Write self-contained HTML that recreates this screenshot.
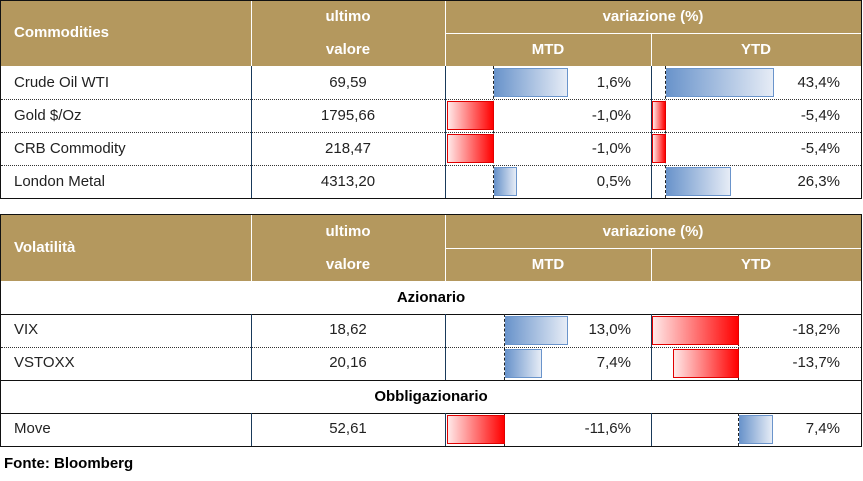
<!DOCTYPE html><html><head><meta charset="utf-8"><style>
body{margin:0;width:863px;height:481px;background:#fff;position:relative;overflow:hidden;font-family:"Liberation Sans",sans-serif;color:#222}
div{position:absolute;box-sizing:border-box}
.g{background:#B4985E}
.h{color:#fff;font-weight:bold;font-size:15px;text-align:center}
.t{font-size:15px;margin-top:-1px}
.n{left:14px}
.v{left:251px;width:194px;text-align:center}
.m{right:232px;text-align:right}
.y{right:23px;text-align:right}
.bp{background:linear-gradient(to right,#6A94CB,#E6ECF6);border:1px solid #6A94CB}
.bn{background:linear-gradient(to right,#FFE8E8,#FF0000);border:1px solid #E00000}
.dot{height:0;border-top:1px dotted #333}
.ax{width:0;border-left:1px dashed #222}
</style></head><body>
<div style="left:0;top:0;width:862px;height:199px;border:1px solid #111"></div>
<div class="g" style="left:1px;top:1px;width:860px;height:65px"></div>
<div style="left:251px;top:1px;width:1px;height:65px;background:#fff"></div>
<div style="left:445px;top:1px;width:1px;height:65px;background:#fff"></div>
<div style="left:445px;top:33px;width:416px;height:1px;background:#fff"></div>
<div style="left:651px;top:33px;width:1px;height:33px;background:#fff"></div>
<div class="h" style="left:14px;top:24px;text-align:left">Commodities</div>
<div class="h" style="left:251px;top:8px;width:194px">ultimo</div>
<div class="h" style="left:251px;top:41px;width:194px">valore</div>
<div class="h" style="left:445px;top:8px;width:416px">variazione (%)</div>
<div class="h" style="left:445px;top:41px;width:206px">MTD</div>
<div class="h" style="left:651px;top:41px;width:210px">YTD</div>
<div style="left:251px;top:66px;width:1px;height:132px;background:#1a3a5a"></div>
<div style="left:445px;top:66px;width:1px;height:132px;background:#1a3a5a"></div>
<div style="left:651px;top:66px;width:1px;height:132px;background:#1a3a5a"></div>
<div class="dot" style="left:1px;top:99px;width:860px"></div>
<div class="dot" style="left:1px;top:132px;width:860px"></div>
<div class="dot" style="left:1px;top:165px;width:860px"></div>
<div class="ax" style="left:493px;top:66px;height:132px"></div>
<div class="ax" style="left:665px;top:66px;height:132px"></div>
<div class="bp" style="left:494px;top:68px;width:74px;height:29px"></div>
<div class="bp" style="left:666px;top:68px;width:108px;height:29px"></div>
<div class="bn" style="left:447px;top:101px;width:47px;height:29px"></div>
<div class="bn" style="left:652px;top:101px;width:14px;height:29px"></div>
<div class="bn" style="left:447px;top:134px;width:47px;height:29px"></div>
<div class="bn" style="left:652px;top:134px;width:14px;height:29px"></div>
<div class="bp" style="left:494px;top:167px;width:23px;height:29px"></div>
<div class="bp" style="left:666px;top:167px;width:65px;height:29px"></div>
<div class="t n" style="top:75px">Crude Oil WTI</div><div class="t v" style="top:75px">69,59</div><div class="t m" style="top:75px">1,6%</div><div class="t y" style="top:75px">43,4%</div>
<div class="t n" style="top:108px">Gold $/Oz</div><div class="t v" style="top:108px">1795,66</div><div class="t m" style="top:108px">-1,0%</div><div class="t y" style="top:108px">-5,4%</div>
<div class="t n" style="top:141px">CRB Commodity</div><div class="t v" style="top:141px">218,47</div><div class="t m" style="top:141px">-1,0%</div><div class="t y" style="top:141px">-5,4%</div>
<div class="t n" style="top:174px">London Metal</div><div class="t v" style="top:174px">4313,20</div><div class="t m" style="top:174px">0,5%</div><div class="t y" style="top:174px">26,3%</div>
<div style="left:0;top:214px;width:862px;height:233px;border:1px solid #111"></div>
<div class="g" style="left:1px;top:215px;width:860px;height:66px"></div>
<div style="left:251px;top:215px;width:1px;height:66px;background:#fff"></div>
<div style="left:445px;top:215px;width:1px;height:66px;background:#fff"></div>
<div style="left:445px;top:248px;width:416px;height:1px;background:#fff"></div>
<div style="left:651px;top:248px;width:1px;height:33px;background:#fff"></div>
<div class="h" style="left:14px;top:239px;text-align:left">Volatilità</div>
<div class="h" style="left:251px;top:223px;width:194px">ultimo</div>
<div class="h" style="left:251px;top:256px;width:194px">valore</div>
<div class="h" style="left:445px;top:223px;width:416px">variazione (%)</div>
<div class="h" style="left:445px;top:256px;width:206px">MTD</div>
<div class="h" style="left:651px;top:256px;width:210px">YTD</div>
<div style="left:1px;top:314px;width:860px;height:1px;background:#111"></div>
<div style="left:1px;top:380px;width:860px;height:1px;background:#111"></div>
<div style="left:1px;top:413px;width:860px;height:1px;background:#111"></div>
<div class="dot" style="left:1px;top:347px;width:860px"></div>
<div style="left:0;top:289px;width:862px;text-align:center;font-weight:bold;font-size:15px;color:#000">Azionario</div>
<div style="left:0;top:388px;width:862px;text-align:center;font-weight:bold;font-size:15px;color:#000">Obbligazionario</div>
<div style="left:251px;top:314px;width:1px;height:66px;background:#1a3a5a"></div>
<div style="left:445px;top:314px;width:1px;height:66px;background:#1a3a5a"></div>
<div style="left:651px;top:314px;width:1px;height:66px;background:#1a3a5a"></div>
<div style="left:251px;top:413px;width:1px;height:33px;background:#1a3a5a"></div>
<div style="left:445px;top:413px;width:1px;height:33px;background:#1a3a5a"></div>
<div style="left:651px;top:413px;width:1px;height:33px;background:#1a3a5a"></div>
<div class="ax" style="left:504px;top:314px;height:66px"></div>
<div class="ax" style="left:738px;top:314px;height:66px"></div>
<div class="ax" style="left:504px;top:413px;height:33px"></div>
<div class="ax" style="left:738px;top:413px;height:33px"></div>
<div class="bp" style="left:505px;top:316px;width:63px;height:29px"></div>
<div class="bn" style="left:652px;top:316px;width:87px;height:29px"></div>
<div class="bp" style="left:505px;top:349px;width:37px;height:29px"></div>
<div class="bn" style="left:673px;top:349px;width:66px;height:29px"></div>
<div class="bn" style="left:447px;top:415px;width:58px;height:29px"></div>
<div class="bp" style="left:739px;top:415px;width:34px;height:29px"></div>
<div class="t n" style="top:322px">VIX</div><div class="t v" style="top:322px">18,62</div><div class="t m" style="top:322px">13,0%</div><div class="t y" style="top:322px">-18,2%</div>
<div class="t n" style="top:355px">VSTOXX</div><div class="t v" style="top:355px">20,16</div><div class="t m" style="top:355px">7,4%</div><div class="t y" style="top:355px">-13,7%</div>
<div class="t n" style="top:421px">Move</div><div class="t v" style="top:421px">52,61</div><div class="t m" style="top:421px">-11,6%</div><div class="t y" style="top:421px">7,4%</div>
<div style="left:4px;top:455px;font-size:15px;font-weight:bold;color:#000">Fonte: Bloomberg</div>
</body></html>
